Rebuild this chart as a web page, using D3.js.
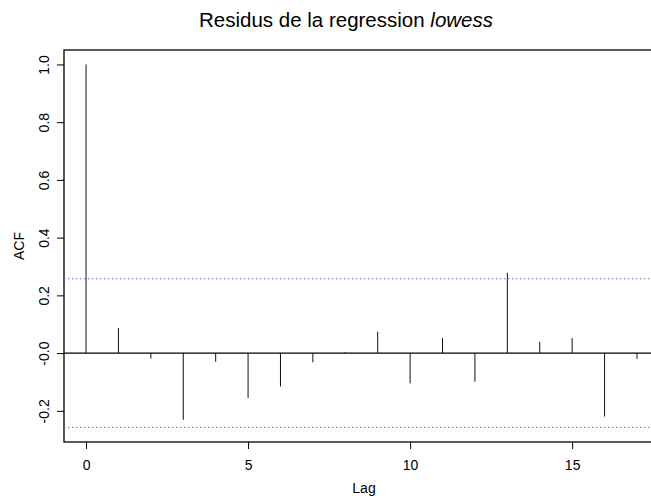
<!DOCTYPE html>
<html>
<head>
    <title>Residus de la regression lowess</title>
    <script src="https://cdn.jsdelivr.net/npm/d3@7"></script>
    <style>
        body { margin: 0; background: #fff; }
        text { font-family: "Liberation Sans", Arial, sans-serif; fill: #000; }
    </style>
</head>
<body>
<svg width="651" height="498"></svg>

<script>
    // acf values
    const lags = [0, 1, 2, 3, 4, 5, 6, 7, 8, 9, 10, 11, 12, 13, 14, 15, 16, 17];
    const acfValues = [1.0, 0.087, -0.019, -0.231, -0.030, -0.155, -0.116, -0.032, 0.003,
                       0.074, -0.105, 0.052, -0.099, 0.278, 0.039, 0.052, -0.220, -0.020];
    const ciBound = 0.2574;
    const xTicks = [0, 5, 10, 15];
    const yTicks = [-0.2, 0, 0.2, 0.4, 0.6, 0.8, 1.0];
    const yTickLabels = ["-0.2", "-0.0", "0.2", "0.4", "0.6", "0.8", "1.0"];

    const svg = d3.select("svg");

    // R style 4% padding on the ranges
    const x = d3.scaleLinear().domain([-0.68, 17.68]).range([64, 659]);
    const y = d3.scaleLinear().domain([-0.308, 1.05]).range([442, 50]);

    // plot box (right side falls outside the picture)
    svg.append("rect")
        .attr("x", x(-0.68))
        .attr("y", y(1.05))
        .attr("width", x(17.68) - x(-0.68))
        .attr("height", y(-0.308) - y(1.05))
        .attr("fill", "none")
        .attr("stroke", "#000")
        .attr("stroke-width", 1.3);

    // zero line
    svg.append("line")
        .attr("x1", x(-0.68)).attr("x2", x(17.68))
        .attr("y1", y(0)).attr("y2", y(0))
        .attr("stroke", "#000")
        .attr("stroke-width", 1.1);

    // confidence bounds
    svg.selectAll(".ci").data([ciBound, -ciBound]).enter().append("line")
        .attr("class", "ci")
        .attr("x1", x(-0.68)).attr("x2", x(17.68))
        .attr("y1", d => y(d)).attr("y2", d => y(d))
        .attr("stroke", "#5a82bf")
        .attr("stroke-width", 1)
        .attr("stroke-dasharray", "1.5,2.5");

    // acf spikes
    svg.selectAll(".spike").data(lags).enter().append("line")
        .attr("class", "spike")
        .attr("x1", d => x(d)).attr("x2", d => x(d))
        .attr("y1", y(0))
        .attr("y2", (d, i) => y(acfValues[i]))
        .attr("stroke", "#111")
        .attr("stroke-width", 1);

    // x axis
    const xAxis = svg.append("g")
        .attr("transform", "translate(0," + y(-0.308) + ")")
        .call(d3.axisBottom(x).tickValues(xTicks).tickFormat(d3.format("d")).tickSize(7).tickPadding(11));
    xAxis.select(".domain").remove();
    xAxis.selectAll("text").attr("font-size", 14).attr("font-family", null);
    xAxis.selectAll("line").attr("stroke", "#000");

    // y axis, labels parallel to the axis like R
    const yAxis = svg.append("g")
        .attr("transform", "translate(" + x(-0.68) + ",0)")
        .call(d3.axisLeft(y).tickValues(yTicks).tickFormat((d, i) => yTickLabels[i]).tickSize(7));
    yAxis.select(".domain").remove();
    yAxis.selectAll("line").attr("stroke", "#000");
    yAxis.selectAll("text")
        .attr("font-size", 14)
        .attr("font-family", null)
        .attr("x", null).attr("dy", null)
        .attr("text-anchor", "middle")
        .attr("transform", "translate(-15,0) rotate(-90)");

    // titles
    const title = svg.append("text")
        .attr("x", 346)
        .attr("y", 27)
        .attr("text-anchor", "middle")
        .attr("font-size", 20.5);
    title.append("tspan").text("Residus de la regression ");
    title.append("tspan").attr("font-style", "italic").text("lowess");

    svg.append("text")
        .attr("x", 364)
        .attr("y", 493)
        .attr("text-anchor", "middle")
        .attr("font-size", 14)
        .text("Lag");

    svg.append("text")
        .attr("transform", "translate(24," + ((y(1.05) + y(-0.308)) / 2) + ") rotate(-90)")
        .attr("text-anchor", "middle")
        .attr("font-size", 14)
        .text("ACF");
</script>
</body>
</html>
